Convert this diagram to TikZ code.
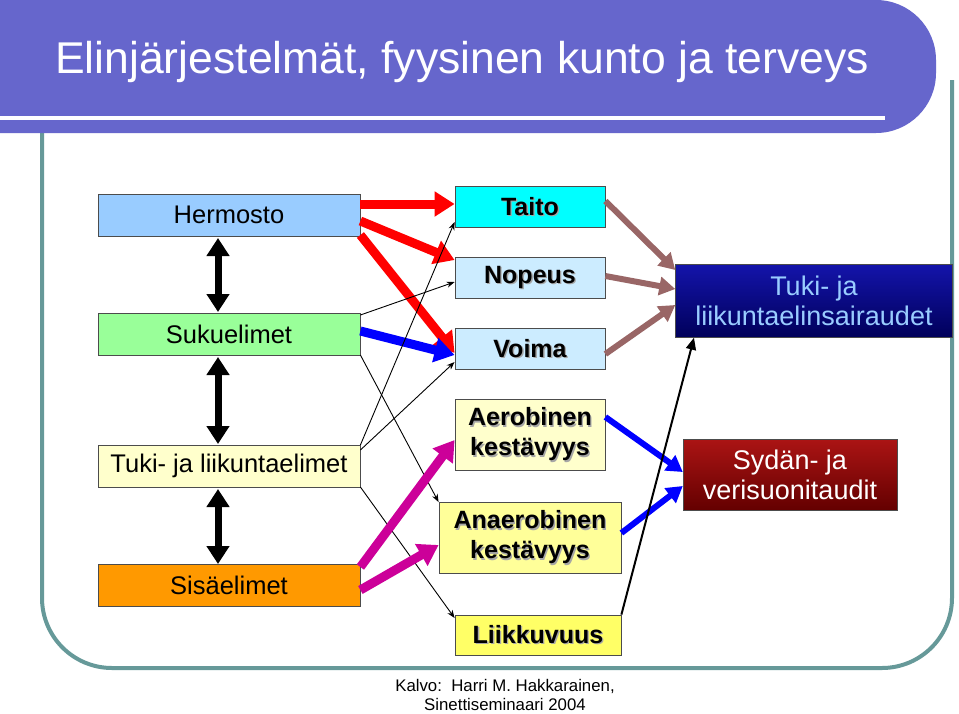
\documentclass[tikz,border=0pt]{standalone}
\usepackage{fontspec}
\setmainfont{Liberation Sans}
\usetikzlibrary{arrows.meta,shadows}
\definecolor{banner}{HTML}{6666CC}
\definecolor{frame}{HTML}{669999}
\definecolor{brownish}{HTML}{996666}
\definecolor{cyanc}{HTML}{00FFFF}
\definecolor{magc}{HTML}{CC0099}
\tikzset{
 lbox/.style={draw=black!70,line width=0.8pt,minimum width=262pt,minimum height=42pt,font=\fontsize{25.5}{28}\selectfont},
 mbox/.style={draw=black!70,line width=0.8pt,minimum width=150pt,font=\bfseries\fontsize{25}{30}\selectfont,align=center},
 thk/.style={line width=9pt,-{Triangle[length=20pt,width=24pt]}},
 thin/.style={line width=0.9pt,-{Stealth[length=8pt,width=6pt]}},
 dbl/.style={line width=7pt,{Triangle[length=18pt,width=22pt]}-{Triangle[length=18pt,width=22pt]}},
}
\newcommand{\sh}[1]{\leavevmode\rlap{\hspace{1.3pt}\raisebox{-1.3pt}{\textcolor{black!35}{#1}}}#1}
\begin{document}
\begin{tikzpicture}[x=1pt,y=-1pt]
\useasboundingbox (0,0) rectangle (959,713);
\fill[white] (0,0) rectangle (959,713);
% frame
\draw[frame,line width=4pt,rounded corners=70pt] (42,100) -- (42,668) -- (952,668) -- (952,80);
\fill[banner,rounded corners=60pt] (-60,0) rectangle (936,133);
\fill[banner] (0,0) rectangle (100,133);
\draw[white,line width=4pt] (0,118) -- (885,118);
\node[text=white,font=\fontsize{44.5}{48}\selectfont] (title) at (462,62) {Elinjärjestelmät, fyysinen kunto ja terveys};
% left boxes
\node[lbox,fill={rgb,255:red,153;green,204;blue,255}] (her) at (229,215) {Hermosto};
\node[lbox,fill={rgb,255:red,153;green,255;blue,153}] (suk) at (229,334) {Sukuelimet};
\node[lbox,fill={rgb,255:red,255;green,255;blue,204}] (tuk) at (229,466) {Tuki- ja liikuntaelimet};
\node[lbox,fill={rgb,255:red,255;green,153;blue,0}] (sis) at (229,585) {Sisäelimet};
% middle
\node[mbox,fill=cyanc,minimum height=41pt] (tai) at (530,207) {\sh{Taito}};
\node[mbox,fill={rgb,255:red,204;green,236;blue,255},minimum height=41pt] (nop) at (530,278) {\sh{Nopeus}};
\node[mbox,fill={rgb,255:red,204;green,236;blue,255},minimum height=41pt] (voi) at (530,349) {\sh{Voima}};
\node[mbox,fill={rgb,255:red,255;green,255;blue,204},minimum height=71pt] (aer) at (530,435) {\sh{Aerobinen}\\\sh{kestävyys}};
\node[mbox,fill={rgb,255:red,255;green,255;blue,153},minimum height=71pt,minimum width=182pt] (ana) at (530,538) {\sh{Anaerobinen}\\\sh{kestävyys}};
\node[mbox,fill={rgb,255:red,255;green,255;blue,102},minimum height=40pt,minimum width=166pt] (lii) at (538,635) {\sh{Liikkuvuus}};
% right
\node[draw=black!70,minimum width=277pt,minimum height=73pt,inner sep=1pt,top color={rgb,255:red,20;green,20;blue,170},bottom color={rgb,255:red,0;green,0;blue,90},text={rgb,255:red,153;green,204;blue,255},font=\fontsize{27}{30}\selectfont,align=center] (tsa) at (814,301) {Tuki- ja\\liikuntaelinsairaudet};
\node[draw=black!70,minimum width=214pt,minimum height=71pt,top color={rgb,255:red,170;green,20;blue,20},bottom color={rgb,255:red,100;green,0;blue,0},text=white,font=\fontsize{27}{30}\selectfont,align=center] (syd) at (790,475) {Sydän- ja\\verisuonitaudit};
% double arrows
\draw[dbl] (218,238) -- (218,312);
\draw[dbl] (218,357) -- (218,444);
\draw[dbl] (218,489) -- (218,564);
% red
\draw[thk,red] ([yshift=11pt]her.east) -- ([yshift=3pt]tai.west);
\draw[thk,red] ([yshift=-6pt]her.east) -- ([yshift=18pt]nop.west);
\draw[thk,red] ([yshift=-20pt]her.east) -- ([yshift=-4pt]voi.west);
\draw[thk,blue] ([yshift=3pt]suk.east) -- ([yshift=-6pt]voi.west);
% thin
\draw[thin] ([yshift=19pt]suk.east) -- ([yshift=-4pt]nop.west);
\draw[thin] ([yshift=-21pt]suk.east) -- (ana.north west);
\draw[thin] ([yshift=21pt]tuk.east) -- ([yshift=-15pt]tai.west);
\draw[thin] ([yshift=16pt]tuk.east) -- ([yshift=-13pt]voi.west);
\draw[thin] ([yshift=-21pt]tuk.east) -- ([yshift=17pt]lii.west);
% magenta
\draw[thk,magc] ([yshift=18pt]sis.east) -- ([yshift=-5pt]aer.west);
\draw[thk,magc] ([yshift=-5pt]sis.east) -- ([yshift=-7pt]ana.west);
% brown
\draw[thk,brownish,line width=6pt,-{Triangle[length=16pt,width=18pt]}] ([yshift=6pt]tai.east) -- ([yshift=31pt]tsa.west);
\draw[thk,brownish,line width=6pt,-{Triangle[length=16pt,width=18pt]}] ([yshift=2pt]nop.east) -- ([yshift=12pt]tsa.west);
\draw[thk,brownish,line width=6pt,-{Triangle[length=16pt,width=18pt]}] ([yshift=-5pt]voi.east) -- ([yshift=-4pt]tsa.west);
% blue right
\draw[thk,blue,line width=6pt,-{Triangle[length=16pt,width=18pt]}] ([yshift=18pt]aer.east) -- ([yshift=3pt]syd.west);
\draw[thk,blue,line width=6pt,-{Triangle[length=16pt,width=18pt]}] ([yshift=5pt]ana.east) -- ([yshift=-11pt]syd.west);
\draw[line width=2pt,-{Triangle[length=12pt,width=10pt]}] (lii.north east) -- ([xshift=-120pt]tsa.south);
% footer
\node[font=\fontsize{16.8}{19.5}\selectfont,align=center,inner sep=0pt] (foot) at (505,695) {Kalvo:\ \ Harri M. Hakkarainen,\\Sinettiseminaari 2004};
\end{tikzpicture}
\end{document}
